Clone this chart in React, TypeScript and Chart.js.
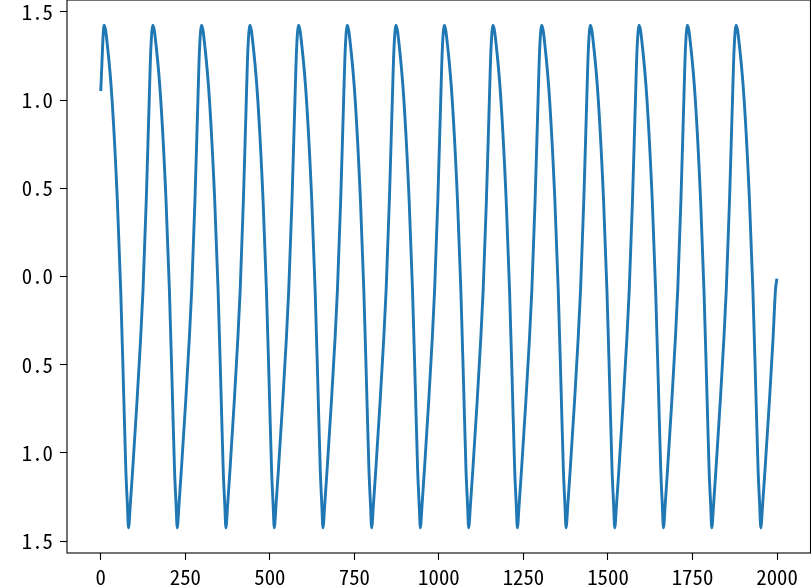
import React, { useEffect, useRef } from "react";
import { Chart, registerables } from "chart.js";

Chart.register(...registerables);

// Peak and trough positions of each oscillation cycle
const peakX = [10, 154, 298, 441, 585, 729, 873, 1016, 1160, 1304, 1448, 1592, 1735, 1879];
const troughX = [82, 226, 370, 513, 657, 801, 945, 1088, 1232, 1376, 1520, 1664, 1807, 1952];
const peakValue = 1.425;
const troughValue = -1.425;
// Shape of a falling stretch (peak -> trough): fraction of the stretch, value
const fallFractions = [0.152, 0.325, 0.54, 0.679, 0.797, 0.89, 0.954];
const fallValues = [1.284, 1.0, 0.434, -0.077, -0.643, -1.097, -1.295];
// Shape of a rising stretch (trough -> next peak)
const riseFractions = [0.073, 0.17, 0.352, 0.494, 0.595, 0.729, 0.85, 0.915];
const riseValues = [-1.295, -1.097, -0.7, -0.36, -0.077, 0.434, 1.0, 1.284];
const lastRiseLength = 72.8;
const startPoint = [0, 1.06];
const endPoint = [1999, -0.02];

const xTicks = [0, 250, 500, 750, 1000, 1250, 1500, 1750, 2000];
const xTickLabels = ["0", "250", "500", "750", "1000", "1250", "1500", "1750", "2000"];
const yTicks = [1.5, 1.0, 0.5, 0.0, -0.5, -1.0, -1.5];
const yTickLabels = ["1.5", "1.0", "0.5", "0.0", "0.5", "1.0", "1.5"];

const xMin = -99.95;
const xMax = 2098.95;
const yMin = -1.5675;
const yMax = 1.5675;

function buildPoints() {
  const pts: { x: number; y: number }[] = [{ x: startPoint[0], y: startPoint[1] }];
  const limit = endPoint[0] - 3;
  const push = (x: number, y: number) => {
    if (x > startPoint[0] && x < limit) pts.push({ x, y });
  };
  for (let k = 0; k < peakX.length; k++) {
    const p = peakX[k];
    const t = troughX[k];
    push(p, peakValue);
    for (let i = 0; i < fallFractions.length; i++) push(p + (t - p) * fallFractions[i], fallValues[i]);
    push(t, troughValue);
    const next = k + 1 < peakX.length ? peakX[k + 1] : t + lastRiseLength;
    for (let i = 0; i < riseFractions.length; i++) push(t + (next - t) * riseFractions[i], riseValues[i]);
  }
  pts.push({ x: endPoint[0], y: endPoint[1] });
  return pts;
}

const FONT = "'Noto Sans Mono CJK SC', 'DejaVu Sans Mono', monospace";

const framePlugin = {
  id: "frame",
  afterDraw(chart: any) {
    const { ctx, chartArea } = chart;
    const { left, top, right, bottom } = chartArea;
    ctx.save();
    ctx.strokeStyle = "#000";
    ctx.lineWidth = 1.1;
    ctx.strokeRect(left, top, right - left, bottom - top);
    ctx.restore();
  },
};

export default function App() {
  const ref = useRef<HTMLCanvasElement | null>(null);
  useEffect(() => {
    if (!ref.current) return;
    const chart = new Chart(ref.current, {
      type: "line",
      data: {
        datasets: [
          {
            data: buildPoints(),
            borderColor: "#1f77b4",
            borderWidth: 2.9,
            pointRadius: 0,
            fill: false,
            cubicInterpolationMode: "monotone",
            borderCapStyle: "square",
            borderJoinStyle: "round",
          },
        ],
      },
      options: {
        animation: false,
        responsive: false,
        devicePixelRatio: 1,
        layout: { padding: { left: 0, top: 0, right: 0.5, bottom: 0 } },
        plugins: { legend: { display: false }, tooltip: { enabled: false } },
        scales: {
          x: {
            type: "linear",
            min: xMin,
            max: xMax,
            afterFit: (s: any) => {
              s.height = 32;
              s.paddingLeft = 0;
              s.paddingRight = 0;
            },
            afterBuildTicks: (s: any) => {
              s.ticks = xTicks.map((v) => ({ value: v }));
            },
            grid: {
              display: true,
              drawOnChartArea: false,
              drawTicks: true,
              tickLength: 7,
              tickWidth: 1.1,
              tickColor: "#000",
            },
            border: { display: false },
            ticks: {
              padding: 5,
              color: "#000",
              font: { family: FONT, size: 20.8 },
              maxRotation: 0,
              autoSkip: false,
              callback: (v: any) => {
                const i = xTicks.indexOf(Number(v));
                return i >= 0 ? xTickLabels[i] : "";
              },
            },
          },
          y: {
            type: "linear",
            min: yMin,
            max: yMax,
            afterFit: (s: any) => {
              s.width = 67;
              s.paddingTop = 0;
              s.paddingBottom = 0;
            },
            afterBuildTicks: (s: any) => {
              s.ticks = yTicks.map((v) => ({ value: v }));
            },
            grid: {
              display: true,
              drawOnChartArea: false,
              drawTicks: true,
              tickLength: 7,
              tickWidth: 1.1,
              tickColor: "#000",
            },
            border: { display: false },
            ticks: {
              padding: 7,
              color: "#000",
              font: { family: FONT, size: 20.8 },
              autoSkip: false,
              callback: (v: any) => {
                const i = yTicks.findIndex((t) => Math.abs(t - Number(v)) < 1e-9);
                return i >= 0 ? yTickLabels[i] : "";
              },
            },
          },
        },
      },
      plugins: [framePlugin],
    });
    return () => chart.destroy();
  }, []);

  return (
    <div style={{ position: "absolute", left: 0, top: 0, width: 811, height: 585, background: "#fff" }}>
      <canvas ref={ref} width={811} height={585} style={{ display: "block", width: 811, height: 585 }} />
    </div>
  );
}
